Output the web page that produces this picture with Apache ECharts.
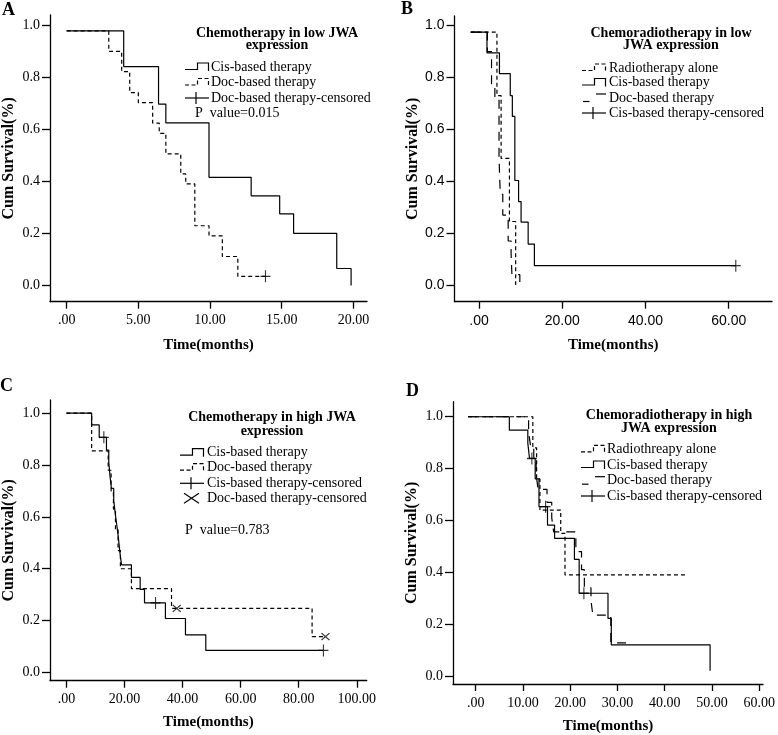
<!DOCTYPE html>
<html><head><meta charset="utf-8">
<script src="https://cdn.jsdelivr.net/npm/echarts@6/dist/echarts.min.js"></script>
<style>html,body{margin:0;padding:0;background:#fff}#c{width:778px;height:735px}</style>
</head><body><div id="c"></div>
<script>
// ---------------- data ----------------
const xTicksA = [0, 5, 10, 15, 20];
const xTicksB = [0, 20, 40, 60];
const xTicksC = [0, 20, 40, 60, 80, 100];
const xTicksD = [0, 10, 20, 30, 40, 50, 60];
const yTicks = [0, 0.2, 0.4, 0.6, 0.8, 1.0];

// Panel A: Chemotherapy in low JWA expression
const aCisTime = [0, 3.98, 6.41, 6.92, 9.93, 12.87, 14.86, 15.83, 18.84, 19.84];
const aCisSurv = [0.977, 0.84, 0.696, 0.624, 0.415, 0.344, 0.275, 0.2, 0.065, 0];
const aDocTime = [0, 2.94, 3.84, 4.4, 5.0, 6.0, 6.46, 6.92, 7.96, 8.31, 8.94, 9.93, 10.86, 11.94, 13.87];
const aDocSurv = [0.977, 0.898, 0.821, 0.74, 0.702, 0.623, 0.584, 0.505, 0.428, 0.39, 0.229, 0.19, 0.111, 0.035, 0.035];
const aDocCensTime = [13.87];
const aDocCensSurv = [0.035];

// Panel B: Chemoradiotherapy in low JWA expression
const bRadTime = [-2, 4.3, 5.3, 7.3, 8.8];
const bRadSurv = [0.975, 0.73, 0.488, 0.245, 0];
const bCisTime = [-2, 1.9, 4.9, 7.5, 8.0, 8.6, 9.5, 10.1, 11.8, 13.3, 61.7];
const bCisSurv = [0.975, 0.895, 0.815, 0.73, 0.65, 0.403, 0.322, 0.243, 0.158, 0.075, 0.075];
const bDocTime = [-2, 2.0, 3.0, 3.8, 4.8, 5.1, 5.7, 7.0, 7.7, 7.9, 9.8];
const bDocSurv = [0.975, 0.90, 0.77, 0.72, 0.49, 0.35, 0.27, 0.17, 0.12, 0.04, 0];
const bCisCensTime = [61.7];
const bCisCensSurv = [0.075];

// Panel C: Chemotherapy in high JWA expression
const cCisTime = [0, 8.7, 11.3, 13.8, 14.6, 15.0, 15.5, 16.3, 16.8, 17.4, 17.9, 18.4, 19.0, 22.4, 25.4, 26.9, 34.1, 41.0, 48.0, 88.5];
const cCisSurv = [1.0, 0.955, 0.907, 0.858, 0.81, 0.76, 0.71, 0.665, 0.615, 0.565, 0.52, 0.465, 0.415, 0.367, 0.32, 0.268, 0.208, 0.145, 0.085, 0.085];
const cDocTime = [0, 8.7, 14.4, 15.4, 16.2, 16.9, 17.8, 18.6, 22.4, 36.2, 84.6, 89.2];
const cDocSurv = [1.0, 0.855, 0.78, 0.70, 0.63, 0.55, 0.47, 0.40, 0.323, 0.247, 0.138, 0.138];
const cCisCensTime = [12.9, 30.7, 88.5];
const cCisCensSurv = [0.907, 0.268, 0.085];
const cDocCensTime = [38.0, 89.2];
const cDocCensSurv = [0.247, 0.138];

// Panel D: Chemoradiotherapy in high JWA expression
const dRadTime = [-1.6, 12.1, 12.9, 13.6, 18.0, 18.9, 44.4];
const dRadSurv = [1.0, 0.88, 0.76, 0.64, 0.55, 0.39, 0.39];
const dCisTime = [-1.6, 7.13, 11.04, 11.4, 12.6, 13.4, 15.2, 16.7, 20.9, 21.9, 28.0, 28.7, 49.6];
const dCisSurv = [1.0, 0.948, 0.897, 0.839, 0.76, 0.653, 0.582, 0.531, 0.45, 0.319, 0.222, 0.12, 0.02];
const dDocTime = [-1.6, 11.2, 11.6, 12.3, 12.8, 13.2, 15.1, 16.1, 16.5, 21.2, 22.4, 23.0, 24.4, 24.8, 28.6, 31.8];
const dDocSurv = [1.0, 0.94, 0.89, 0.83, 0.78, 0.72, 0.67, 0.61, 0.556, 0.48, 0.41, 0.34, 0.29, 0.235, 0.128, 0.128];
const dCisCensTime = [11.9, 14.8, 22.9];
const dCisCensSurv = [0.839, 0.653, 0.319];

// ---------------- styling / layout ----------------
const SERIF = '"Liberation Serif", "Times New Roman", serif';
const SANS = '"Liberation Sans", Arial, sans-serif';
const BLACK = '#000';
const LW = 1.2;
const SHORT_DASH = [4, 3];
const LONG_DASH = [9, 7];
const PLUS = 'path://M0,6L12,6M6,0L6,12';
const CROSS = 'path://M0,0L10,10M10,0L0,10';

const panels = [
  { grid: { left: 49, top: 15, width: 318, height: 286.7 }, xMin: -1.16, xMax: 20.95, yMin: -0.0625, yMax: 1.038, xTicks: xTicksA, font: SERIF, yNameGap: 33, xNameGap: 36 },
  { grid: { left: 454.5, top: 16, width: 317.5, height: 285.7 }, xMin: -5.9, xMax: 70.4, yMin: -0.064, yMax: 1.037, xTicks: xTicksB, font: SANS, yNameGap: 33, xNameGap: 36 },
  { grid: { left: 49.3, top: 400, width: 317.4, height: 280.7 }, xMin: -5.64, xMax: 103.4, yMin: -0.032, yMax: 1.051, xTicks: xTicksC, font: SERIF, yNameGap: 33, xNameGap: 34 },
  { grid: { left: 453, top: 401.7, width: 319, height: 282.3 }, xMin: -4.79, xMax: 60.8, yMin: -0.031, yMax: 1.058, xTicks: xTicksD, font: SERIF, yNameGap: 33, xNameGap: 35 }
];

function xFmt(v) { return v === 0 ? '.00' : v.toFixed(2); }
function yFmt(v) { return v.toFixed(1); }

const grids = panels.map(p => Object.assign({ containLabel: false }, p.grid));
const xAxes = panels.map((p, i) => ({
  type: 'value', gridIndex: i, min: p.xMin, max: p.xMax,
  axisLine: { show: true, onZero: false, lineStyle: { color: BLACK, width: 1.3 } },
  axisTick: { show: true, length: 7, customValues: p.xTicks, lineStyle: { color: BLACK, width: 1.3 } },
  axisLabel: { customValues: p.xTicks, formatter: xFmt, color: BLACK, fontFamily: p.font, fontSize: 14, margin: 12 },
  splitLine: { show: false },
  name: 'Time(months)', nameLocation: 'middle', nameGap: p.xNameGap,
  nameTextStyle: { color: BLACK, fontFamily: SERIF, fontWeight: 'bold', fontSize: 15 }
}));
const yAxes = panels.map((p, i) => ({
  type: 'value', gridIndex: i, min: p.yMin, max: p.yMax,
  axisLine: { show: true, onZero: false, lineStyle: { color: BLACK, width: 1.3 } },
  axisTick: { show: true, length: 8, customValues: yTicks, lineStyle: { color: BLACK, width: 1.3 } },
  axisLabel: { customValues: yTicks, formatter: yFmt, color: BLACK, fontFamily: p.font, fontSize: 14, margin: 10 },
  splitLine: { show: false },
  name: 'Cum Survival(%)', nameLocation: 'middle', nameGap: p.yNameGap,
  nameTextStyle: { color: BLACK, fontFamily: SERIF, fontWeight: 'bold', fontSize: 16 }
}));

function pairs(t, s) { return t.map((x, k) => [x, s[k]]); }
function curve(i, t, s, dash) {
  return { type: 'line', xAxisIndex: i, yAxisIndex: i, step: 'end', symbol: 'none', silent: true,
    data: pairs(t, s), lineStyle: { color: BLACK, width: LW, type: dash || 'solid' } };
}
function cens(i, t, s, sym, size) {
  return { type: 'scatter', xAxisIndex: i, yAxisIndex: i, symbol: sym, symbolSize: size, silent: true,
    data: pairs(t, s), itemStyle: { color: 'none', borderColor: BLACK, borderWidth: LW } };
}

const series = [
  curve(0, aCisTime, aCisSurv), curve(0, aDocTime, aDocSurv, SHORT_DASH),
  cens(0, aDocCensTime, aDocCensSurv, PLUS, [10, 12]),
  curve(1, bRadTime, bRadSurv, SHORT_DASH), curve(1, bCisTime, bCisSurv), curve(1, bDocTime, bDocSurv, LONG_DASH),
  cens(1, bCisCensTime, bCisCensSurv, PLUS, [10, 12]),
  curve(2, cCisTime, cCisSurv), curve(2, cDocTime, cDocSurv, SHORT_DASH),
  cens(2, cCisCensTime, cCisCensSurv, PLUS, [10, 12]), cens(2, cDocCensTime, cDocCensSurv, CROSS, [8, 7]),
  curve(3, dRadTime, dRadSurv, SHORT_DASH), curve(3, dCisTime, dCisSurv), curve(3, dDocTime, dDocSurv, LONG_DASH),
  cens(3, dCisCensTime, dCisCensSurv, PLUS, [10, 12])
];

// ---------------- legends (graphic) ----------------
function txt(x, y, text, font, align) {
  return { type: 'text', silent: true, x: x, y: y,
    style: { text: text, font: font, fill: BLACK, align: align || 'left', verticalAlign: 'middle', textAlign: align || 'left', textVerticalAlign: 'middle' } };
}
function pl(points, dash) {
  return { type: 'polyline', silent: true, shape: { points: points },
    style: { stroke: BLACK, fill: null, lineWidth: LW, lineDash: dash || null } };
}
function sym(kind, x0, yc) {
  if (kind === 'step' || kind === 'stepDash') {
    return [pl([[x0, yc + 2.5], [x0 + 12.5, yc + 2.5], [x0 + 12.5, yc - 4], [x0 + 23.5, yc - 4], [x0 + 23.5, yc + 4]], kind === 'stepDash' ? [4, 2.5] : null)];
  }
  if (kind === 'longDash') {
    return [pl([[x0 + 1, yc + 3.5], [x0 + 7.5, yc + 3.5]]), pl([[x0 + 14, yc - 4], [x0 + 24, yc - 4]])];
  }
  if (kind === 'plus') {
    return [pl([[x0, yc], [x0 + 24, yc]]), pl([[x0 + 11, yc - 6], [x0 + 11, yc + 6]])];
  }
  if (kind === 'cross') {
    return [pl([[x0 + 4, yc - 5], [x0 + 19, yc + 5]]), pl([[x0 + 4, yc + 5], [x0 + 19, yc - 5]])];
  }
  return [];
}
const TITLE_FONT = 'bold 14px ' + SERIF;
const ITEM_FONT = '14px ' + SERIF;
const LETTER_FONT = 'bold 18px ' + SERIF;

function legend(cfg) {
  const out = [];
  cfg.title.forEach((t, k) => out.push(txt(cfg.tx, cfg.ty[k], t, TITLE_FONT, 'center')));
  cfg.items.forEach((it, k) => {
    sym(it[0], cfg.sx, cfg.iy[k]).forEach(e => out.push(e));
    out.push(txt(cfg.lx, cfg.iy[k], it[1], ITEM_FONT, 'left'));
  });
  return out;
}

const graphics = [].concat(
  [txt(2, 10, 'A', LETTER_FONT), txt(401, 9, 'B', LETTER_FONT), txt(0, 386, 'C', LETTER_FONT), txt(406, 391, 'D', LETTER_FONT)],
  legend({ title: ['Chemotherapy in low JWA', 'expression'], tx: 277, ty: [33, 45.5], sx: 185, lx: 211, iy: [67, 82.5, 98],
    items: [['step', 'Cis-based therapy'], ['stepDash', 'Doc-based therapy'], ['plus', 'Doc-based therapy-censored']] }),
  [txt(195, 113, 'P  value=0.015', ITEM_FONT)],
  legend({ title: ['Chemoradiotherapy in low', 'JWA expression'], tx: 671, ty: [33, 45.5], sx: 582, lx: 609, iy: [68, 82.5, 98, 113],
    items: [['stepDash', 'Radiotherapy alone'], ['step', 'Cis-based therapy'], ['longDash', 'Doc-based therapy'], ['plus', 'Cis-based therapy-censored']] }),
  legend({ title: ['Chemotherapy in high JWA', 'expression'], tx: 272, ty: [417, 431], sx: 180, lx: 207, iy: [452.7, 467.7, 483.3, 498.3],
    items: [['step', 'Cis-based therapy'], ['stepDash', 'Doc-based therapy'], ['plus', 'Cis-based therapy-censored'], ['cross', 'Doc-based therapy-censored']] }),
  [txt(185, 530, 'P  value=0.783', ITEM_FONT)],
  legend({ title: ['Chemoradiotherapy in high', 'JWA expression'], tx: 669, ty: [415, 428.5], sx: 581, lx: 607, iy: [449.3, 465, 480.7, 496],
    items: [['stepDash', 'Radiothreapy alone'], ['step', 'Cis-based therapy'], ['longDash', 'Doc-based therapy'], ['plus', 'Cis-based therapy-censored']] })
);

const chart = echarts.init(document.getElementById('c'), null, { renderer: 'canvas' });
chart.setOption({
  animation: false,
  backgroundColor: '#fff',
  grid: grids, xAxis: xAxes, yAxis: yAxes, series: series,
  graphic: { elements: graphics }
});
</script></body></html>
